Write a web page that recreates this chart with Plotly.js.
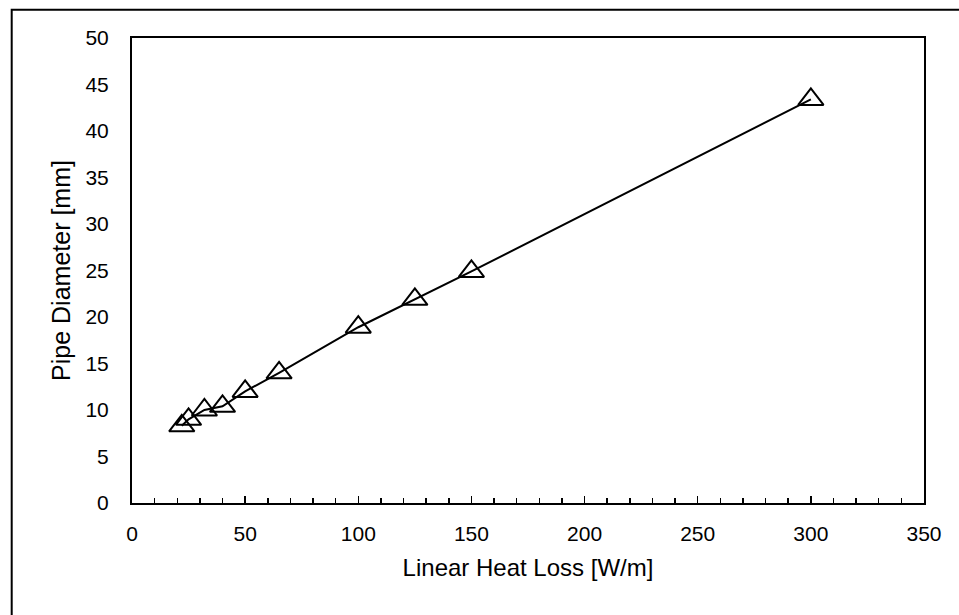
<!DOCTYPE html>
<html>
<head>
<meta charset="utf-8">
<script src="https://cdn.plot.ly/plotly-3.0.1.min.js"></script>
<style>
  html, body { margin: 0; padding: 0; background: #fff; }
  #chart { width: 959px; height: 615px; }
</style>
</head>
<body>
<div id="chart"></div>
<script>
// Data
const heatLoss = [22, 25, 32, 40, 50, 65, 100, 125, 150, 300];          // Linear Heat Loss [W/m]
const pipeDiameter = [8.3, 9, 10, 10.4, 12, 14, 18.9, 21.9, 24.9, 43.4]; // Pipe Diameter [mm]
const xTickValues = [0, 50, 100, 150, 200, 250, 300, 350];
const yTickValues = [0, 5, 10, 15, 20, 25, 30, 35, 40, 45, 50];

const W = 959, H = 615;
const margin = { l: 132, r: 35, t: 38, b: 112 };
const pw = W - margin.l - margin.r;
const ph = H - margin.t - margin.b;
// outer frame (pixel positions converted to paper coordinates)
const fx0 = (11.7 - margin.l) / pw;
const fx1 = (W + 20 - margin.l) / pw;
const fy1 = (H - margin.b - 9.7) / ph;
const fy0 = (H - margin.b - (H + 20)) / ph;

const font = "'Liberation Sans', Arial, sans-serif";

const trace = {
  x: heatLoss,
  y: pipeDiameter,
  type: 'scatter',
  mode: 'lines+markers',
  line: { color: '#000', width: 2 },
  marker: {
    symbol: 'triangle-up-open',
    size: 22,
    color: '#000',
    line: { color: '#000', width: 2 }
  },
  cliponaxis: false,
  hoverinfo: 'x+y'
};

const layout = {
  width: W,
  height: H,
  margin: margin,
  paper_bgcolor: '#fff',
  plot_bgcolor: '#fff',
  showlegend: false,
  font: { family: font, color: '#000', size: 21 },
  xaxis: {
    range: [0, 350],
    tickmode: 'array',
    tickvals: xTickValues,
    ticktext: xTickValues.map(String),
    ticks: 'inside',
    ticklen: 7,
    tickwidth: 1.5,
    tickcolor: '#000',
    minor: { dtick: 10, ticks: 'inside', ticklen: 5, tickwidth: 1.5, tickcolor: '#000', showgrid: false },
    showgrid: false,
    zeroline: false,
    showline: true,
    linecolor: '#000',
    linewidth: 2,
    mirror: true,
    tickfont: { family: font, size: 21, color: '#000' },
    ticklabelstandoff: 11,
    title: { text: 'Linear Heat Loss [W/m]', font: { family: font, size: 24, color: '#000' }, standoff: 15 }
  },
  yaxis: {
    range: [0, 50],
    tickmode: 'array',
    tickvals: yTickValues,
    ticktext: yTickValues.map(String),
    ticks: '',
    showgrid: false,
    zeroline: false,
    showline: true,
    linecolor: '#000',
    linewidth: 2,
    mirror: true,
    tickfont: { family: font, size: 21, color: '#000' },
    ticklabelstandoff: 17,
    title: { text: 'Pipe Diameter [mm]', font: { family: font, size: 25, color: '#000' }, standoff: 8 }
  },
  shapes: [
    { type: 'rect', xref: 'paper', yref: 'paper', x0: fx0, x1: fx1, y0: fy0, y1: fy1,
      line: { color: '#000', width: 2 }, fillcolor: 'rgba(0,0,0,0)', layer: 'below' }
  ]
};

Plotly.newPlot('chart', [trace], layout, { displayModeBar: false, staticPlot: true });
</script>
</body>
</html>
